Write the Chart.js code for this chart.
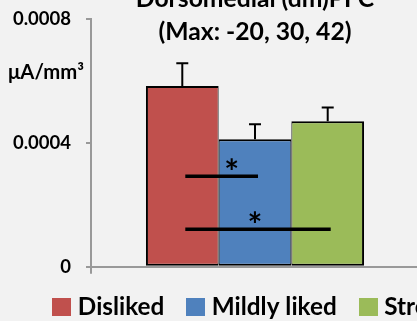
<!DOCTYPE html>
<html>
<head>
<meta charset="utf-8">
<script src="https://cdn.jsdelivr.net/npm/chart.js@4.4.1/dist/chart.umd.min.js"></script>
<style>
  html, body { margin: 0; padding: 0; background: #f2f2f2; overflow: hidden; }
  #wrap { position: relative; width: 417px; height: 321px; overflow: hidden; }
  #id_canv { position: absolute; left: 0; top: -17px; }
</style>
</head>
<body>
<div id="wrap"><canvas id="id_canv" width="589" height="346"></canvas></div>
<script>
// values
const categories = ['Disliked', 'Mildly liked', 'Strongly liked']
const means = [0.000584, 0.000412, 0.000470]
const errTops = [0.000657, 0.000460, 0.000514]   // top of the upper whisker
const yTickLabels = ['0', '0.0004', '0.0008']
const titleLines = ['Dorsomedial (dm)PFC', '(Max: -20, 30, 42)']
const unitLabel = 'μA/mm³'
// significance bars: from bar -> to bar, height, star position (in bar index units)
const sigFrom = [0, 0]
const sigTo = [1, 2]
const sigValues = [0.000292, 0.000121]
const sigStarAt = [0.68, 1.0]

const colors = ['#c0504d', '#4f81bd', '#9bbb59']
const fontFam = 'Lato, "Open Sans", sans-serif'

/* small colour squares used as legend symbols (sits closer to the text than the default box) */
function swatch(color) {
  let cv = document.createElement('canvas')
  cv.width = 19
  cv.height = 18
  let g = cv.getContext('2d')
  g.fillStyle = color
  g.fillRect(0, 0, 19, 18)
  return cv
}
const swatches = colors.map(swatch)

const extras = {
  id: 'extras',
  afterDatasetsDraw(chart) {
    const c = chart.ctx
    const y = chart.scales.y
    const bars = categories.map((_, i) => chart.getDatasetMeta(i).data[0])
    c.save()
    c.strokeStyle = '#000'
    c.lineWidth = 2
    // upper error whiskers
    bars.forEach((b, i) => {
      const yt = y.getPixelForValue(errTops[i])
      c.beginPath()
      c.moveTo(b.x, b.y)
      c.lineTo(b.x, yt)
      c.moveTo(b.x - 6, yt)
      c.lineTo(b.x + 6, yt)
      c.stroke()
    })
    // significance lines with stars
    c.lineWidth = 3.5
    c.fillStyle = '#000'
    c.font = 'bold 35px ' + fontFam
    c.textAlign = 'center'
    c.textBaseline = 'middle'
    const step = bars[1].x - bars[0].x
    sigValues.forEach((v, k) => {
      const yy = y.getPixelForValue(v)
      const x0 = bars[sigFrom[k]].x + 3
      const x1 = bars[sigTo[k]].x + 3
      c.beginPath()
      c.moveTo(x0, yy)
      c.lineTo(x1, yy)
      c.stroke()
      c.fillText('*', bars[0].x + sigStarAt[k] * step, yy - 4)
    })
    // unit label left of the axis
    c.font = 'bold 20.3px ' + fontFam
    c.textAlign = 'right'
    c.fillText(unitLabel, chart.chartArea.left - 7, chart.chartArea.top + 53)
    c.restore()
  }
}

let canv = document.getElementById('id_canv')
new Chart(canv.getContext('2d'), {
  type: 'bar',
  data: {
    labels: [''],
    datasets: categories.map((name, i) => ({
      label: name,
      data: [means[i]],
      backgroundColor: colors[i],
      borderColor: '#000',
      borderWidth: { top: 2, bottom: 2, left: i == 0 ? 2 : 1, right: i == 2 ? 2 : 1 },
      borderSkipped: false,
      categoryPercentage: 0.665,
      barPercentage: 1,
      yAxisID: 'y',
      xAxisID: 'x',
    })),
  },
  options: {
    responsive: false,
    animation: false,
    events: [],
    layout: { padding: 0 },
    plugins: {
      tooltip: { enabled: false },
      legend: {
        position: 'bottom',
        align: 'center',
        labels: {
          usePointStyle: true,
          pointStyleWidth: 8,
          padding: 27.35,
          color: '#000',
          font: { family: fontFam, size: 24.3, weight: 'bold' },
          generateLabels: (chart) => Chart.defaults.plugins.legend.labels.generateLabels(chart)
            .map((l, i) => ({ ...l, pointStyle: swatches[i], lineWidth: 0 })),
        },
      },
    },
    scales: {
      x: {
        position: 'bottom',
        grid: { drawOnChartArea: false, drawTicks: true, tickLength: 7, color: '#999', lineWidth: 2 },
        border: { display: true, color: '#999', width: 2 },
        ticks: { display: false },
        afterFit: (s) => { s.height = 0.65 },
      },
      x2: {
        type: 'category',
        labels: [''],
        position: 'top',
        grid: { display: false },
        border: { display: false },
        ticks: { display: false },
        title: {
          display: true,
          text: titleLines,
          color: '#000',
          font: { family: fontFam, size: 24.7, weight: 'bold', lineHeight: 1.32 },
          padding: 0,
        },
        afterFit: (s) => { s.height = 36 },
      },
      y: {
        position: 'left',
        min: 0,
        max: 0.0008,
        ticks: {
          stepSize: 0.0004,
          padding: 15,
          color: '#000',
          font: { family: fontFam, size: 18.5, weight: 'bold' },
          callback: (v, i) => yTickLabels[i],
        },
        grid: { drawOnChartArea: false, drawTicks: true, tickLength: 5, color: '#999', lineWidth: 2 },
        border: { display: true, color: '#999', width: 2 },
        afterFit: (s) => { s.width = 91 },
      },
      y2: {
        position: 'right',
        display: true,
        grid: { display: false },
        border: { display: false },
        ticks: { display: false },
        afterFit: (s) => { s.width = 170 },
      },
    },
  },
  plugins: [extras],
})
</script>
</body>
</html>
